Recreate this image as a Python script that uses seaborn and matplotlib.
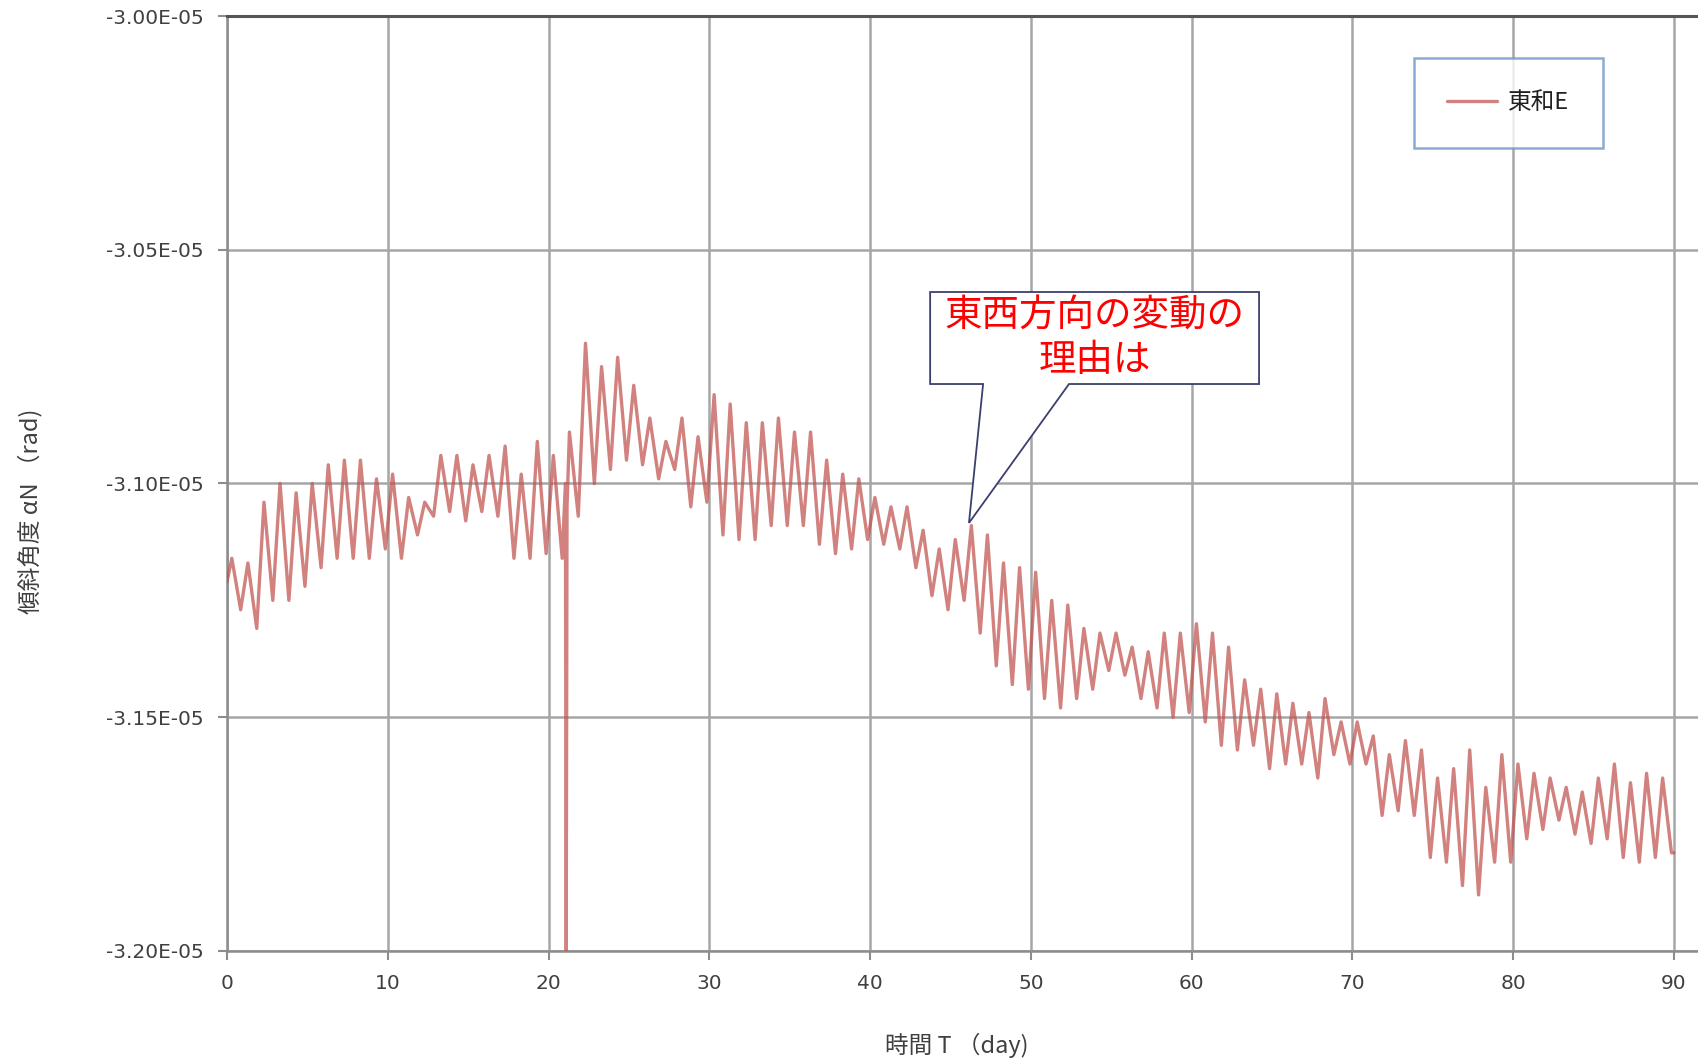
import numpy as np
import pandas as pd
import matplotlib
matplotlib.use("Agg")
import matplotlib.pyplot as plt
from matplotlib.patches import Polygon
from matplotlib.ticker import FuncFormatter
import seaborn as sns

# daily peak / trough of the tilt (unit: E-05 rad), day 0..89
peaks = [-3.116, -3.117, -3.104, -3.100, -3.102, -3.100, -3.096, -3.095, -3.095, -3.099,
         -3.098, -3.103, -3.104, -3.094, -3.094, -3.096, -3.094, -3.092, -3.098, -3.091,
         -3.094, -3.089, -3.070, -3.075, -3.073, -3.079, -3.086, -3.091, -3.086, -3.090,
         -3.081, -3.083, -3.087, -3.087, -3.086, -3.089, -3.089, -3.095, -3.098, -3.099,
         -3.103, -3.105, -3.105, -3.110, -3.114, -3.112, -3.109, -3.111, -3.117, -3.118,
         -3.119, -3.125, -3.126, -3.131, -3.132, -3.132, -3.135, -3.136, -3.132, -3.132,
         -3.130, -3.132, -3.135, -3.142, -3.144, -3.145, -3.147, -3.149, -3.146, -3.151,
         -3.151, -3.154, -3.158, -3.155, -3.157, -3.163, -3.161, -3.157, -3.165, -3.158,
         -3.160, -3.162, -3.163, -3.165, -3.166, -3.163, -3.160, -3.164, -3.162, -3.163]
troughs = [-3.127, -3.131, -3.125, -3.125, -3.122, -3.118, -3.116, -3.116, -3.116, -3.114,
           -3.116, -3.111, -3.107, -3.106, -3.108, -3.106, -3.107, -3.116, -3.116, -3.115,
           -3.116, -3.107, -3.100, -3.097, -3.095, -3.096, -3.099, -3.097, -3.105, -3.104,
           -3.111, -3.112, -3.112, -3.109, -3.109, -3.109, -3.113, -3.115, -3.114, -3.112,
           -3.113, -3.114, -3.118, -3.124, -3.127, -3.125, -3.132, -3.139, -3.143, -3.144,
           -3.146, -3.148, -3.146, -3.144, -3.140, -3.141, -3.146, -3.148, -3.150, -3.149,
           -3.151, -3.156, -3.157, -3.156, -3.161, -3.160, -3.160, -3.163, -3.158, -3.160,
           -3.160, -3.171, -3.170, -3.171, -3.180, -3.181, -3.186, -3.188, -3.181, -3.181,
           -3.176, -3.174, -3.172, -3.175, -3.177, -3.176, -3.180, -3.181, -3.180, -3.179]
start_value = -3.121
end_value = -3.179
# single dropout sample near day 21
spike_day = 21.1
spike_value = -3.200

days = np.arange(len(peaks))
t = np.concatenate([[0.0], np.ravel(np.column_stack([days + 0.3, days + 0.85])), [90.0], [spike_day]])
v = np.concatenate([[start_value], np.ravel(np.column_stack([peaks, troughs])), [end_value], [spike_value]])
df = pd.DataFrame({"day": t, "tilt": v * 1e-5})
df = pd.concat([df, pd.DataFrame({"day": [spike_day - 0.05, spike_day + 0.05],
                                  "tilt": [-3.100e-5, -3.105e-5]})])
df = df.sort_values("day").reset_index(drop=True)

sns.set_style("white")
plt.rcParams["font.family"] = ["Noto Sans CJK JP", "DejaVu Sans"]

fig = plt.figure(figsize=(16.98, 10.64), dpi=100)
ax = fig.add_axes([227 / 1698, 113 / 1064, 1471 / 1698, 935 / 1064])

sns.lineplot(data=df, x="day", y="tilt", sort=False, color="#c0504d", alpha=0.72,
             linewidth=2.4, label="東和E", ax=ax, zorder=3)

ax.set_xlim(0, 91.5)
ax.set_ylim(-3.20e-5, -3.00e-5)
ax.set_xticks(np.arange(0, 91, 10))
ax.set_yticks(np.arange(-3.20e-5, -2.99e-5, 0.05e-5))
ax.yaxis.set_major_formatter(FuncFormatter(lambda val, pos: f"{val:.2E}"))
ax.yaxis.get_offset_text().set_visible(False)
ax.grid(True, color="#a6a6a6", linewidth=1.8)
ax.set_axisbelow(True)

for side in ["left", "bottom"]:
    ax.spines[side].set_color("#8c8c8c")
    ax.spines[side].set_linewidth(1.8)
ax.spines["right"].set_visible(False)
ax.spines["top"].set_color("#555555")
ax.spines["top"].set_linewidth(2.2)

ax.tick_params(axis="both", which="major", direction="out", length=6.5, width=1.5,
               color="#8c8c8c", labelsize=14.5, labelcolor="#404040", pad=10,
               labelfontfamily="DejaVu Sans", left=True, bottom=True)

ax.set_xlabel("時間 T （day)", fontsize=17, color="#404040")
ax.set_ylabel("傾斜角度 αN （rad)", fontsize=17, color="#404040")
ax.xaxis.set_label_coords(0.496, -0.1005)
ax.xaxis.label.set_va("center")
ax.yaxis.set_label_coords(-0.134, 0.47)
ax.yaxis.label.set_va("center")

leg = ax.legend(loc="center", bbox_to_anchor=(0.871, 0.907), frameon=True, fancybox=False,
                fontsize=17, borderpad=1.4, handlelength=2.1, handletextpad=0.5)
leg.get_frame().set_edgecolor("#6f95c9")
leg.get_frame().set_linewidth(1.8)
for txt in leg.get_texts():
    txt.set_color("#202020")

# speech-bubble callout
callout = Polygon([(0.478, 0.7048), (0.7016, 0.7048), (0.7016, 0.6064), (0.5724, 0.6064),
                   (0.5044, 0.4578), (0.514, 0.6064), (0.478, 0.6064)],
                  closed=True, transform=ax.transAxes, facecolor="white",
                  edgecolor="#3b3f6e", linewidth=1.3, zorder=5)
ax.add_patch(callout)
ax.text(0.59, 0.6556, "東西方向の変動の\n理由は", transform=ax.transAxes, ha="center",
        va="center", fontsize=27, color="#ff0000", linespacing=1.2, zorder=6)

plt.savefig("out.png", dpi=100)
